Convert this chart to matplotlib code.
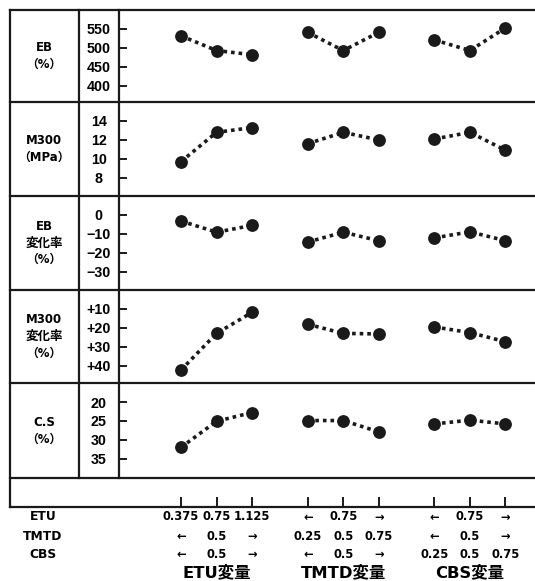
import numpy as np
import matplotlib.pyplot as plt
from matplotlib.lines import Line2D

# compound recipes (phr): ETU / TMTD / CBS
etu = ['0.375', '0.75', '1.125', '←', '0.75', '→', '←', '0.75', '→']
tmtd = ['←', '0.5', '→', '0.25', '0.5', '0.75', '←', '0.5', '→']
cbs = ['←', '0.5', '→', '←', '0.5', '→', '0.25', '0.5', '0.75']
groups = ['ETU変量', 'TMTD変量', 'CBS変量']

# measured properties for each recipe
eb = [532, 493, 482, 541, 493, 541, 521, 493, 553]
m300 = [9.7, 12.8, 13.3, 11.6, 12.8, 12.0, 12.1, 12.8, 10.9]
eb_change = [-3.2, -9.1, -5.5, -14.3, -9.1, -13.6, -12.1, -8.9, -13.6]
m300_change = [42.3, 22.9, 11.8, 18.1, 22.9, 23.2, 19.5, 22.5, 27.3]
cs = [32.0, 25.1, 22.8, 24.9, 24.9, 27.9, 25.8, 24.8, 25.8]

row_names = [['EB', '（%）'], ['M300', '（MPa）'], ['EB', '変化率', '（%）'],
             ['M300', '変化率', '（%）'], ['C.S', '（%）']]
row_ticks = [[550, 500, 450, 400], [14, 12, 10, 8], [0, -10, -20, -30],
             [10, 20, 30, 40], [20, 25, 30, 35]]
row_ticklabels = [['550', '500', '450', '400'], ['14', '12', '10', '8'],
                  ['0', '−10', '−20', '−30'], ['+10', '+20', '+30', '+40'],
                  ['20', '25', '30', '35']]
row_data = [eb, m300, eb_change, m300_change, cs]

WIDE = ['DejaVu Sans', 'Noto Sans CJK JP']
NARROW = ['Liberation Sans', 'DejaVu Sans']
plt.rcParams['font.family'] = WIDE
plt.rcParams['font.weight'] = 'bold'

W, H = 535, 581
fig = plt.figure(figsize=(W / 100, H / 100), dpi=100)
ink = '#1a1a1a'


def fx(px):
    return px / W


def fy(py):
    return 1 - py / H


# x positions: three recipes per group, wider gap between groups
xpos = np.concatenate([g * 3.57 + np.arange(3) for g in range(3)])
x0_px, unit_px = 181, 35.5
xlim = ((119 - x0_px) / unit_px, (535 - x0_px) / unit_px)

rows = [10, 102, 196, 290, 383, 478]
for i in range(5):
    top, bot = rows[i], rows[i + 1]
    h = bot - top
    ax = fig.add_axes([fx(119), fy(bot), fx(535) - fx(119), h / H])
    ticks = row_ticks[i]
    # first tick 19 px below panel top, last tick 75.7 px below
    t_off, b_off = 19.0, 75.7
    per_px = (ticks[-1] - ticks[0]) / (b_off - t_off)
    ytop = ticks[0] - t_off * per_px
    ybot = ticks[-1] + (h - b_off) * per_px
    ax.set_ylim(ybot, ytop)
    ax.set_xlim(*xlim)
    for g in range(3):
        sl = slice(3 * g, 3 * g + 3)
        ax.plot(xpos[sl], row_data[i][sl], color=ink, lw=2.6,
                linestyle=(0, (1.0, 1.1)), dash_capstyle='butt', zorder=2)
        ax.plot(xpos[sl], row_data[i][sl], 'o', color=ink, ms=8.2, zorder=3)
    ax.set_yticks(ticks)
    ax.set_yticklabels(row_ticklabels[i], ha='center', fontsize=10.3,
                       fontweight='bold', family=NARROW)
    ax.tick_params(axis='y', direction='in', length=6, width=1.4, color=ink,
                   pad=14.5)
    ax.set_xticks([])
    for s in ax.spines.values():
        s.set_visible(False)
    ax.patch.set_alpha(0)

    # row heading, one text per line
    lines = row_names[i]
    step = 16.8
    mid = (top + bot) / 2
    for k, line in enumerate(lines):
        py = mid + (k - (len(lines) - 1) / 2) * step
        size = 9 if line == '変化率' else 8.5
        fig.text(fx(44), fy(py), line, ha='center', va='center',
                 fontsize=size, fontweight='bold')

# bottom strip carrying the recipe ticks
axb = fig.add_axes([fx(119), fy(507), fx(535) - fx(119), 29 / H])
axb.set_xlim(*xlim)
axb.set_ylim(0, 1)
axb.set_yticks([])
axb.set_xticks(xpos)
axb.set_xticklabels([])
axb.tick_params(axis='x', direction='in', length=7.5, width=1.4, color=ink)
for s in axb.spines.values():
    s.set_visible(False)
axb.patch.set_alpha(0)

# table frame
lw = 1.6
frame = [((10, 535), (10, 10)), ((10, 535), (102, 102)), ((10, 535), (196, 196)),
         ((10, 535), (290, 290)), ((10, 535), (383, 383)), ((10, 535), (478, 478)),
         ((10, 535), (507, 507)), ((10, 10), (10, 507)), ((79, 79), (10, 478)),
         ((119, 119), (10, 478))]
for xs, ys in frame:
    fig.add_artist(Line2D([fx(xs[0]), fx(xs[1])], [fy(ys[0]), fy(ys[1])],
                          transform=fig.transFigure, color=ink, lw=lw,
                          solid_capstyle='projecting'))

# recipe labels under the ticks
trans = axb.get_xaxis_transform()
for name, labels, py in [('ETU', etu, 517), ('TMTD', tmtd, 536), ('CBS', cbs, 554)]:
    fig.text(fx(43), fy(py), name, ha='center', va='center', fontsize=8.8,
             fontweight='bold')
    for x, lab in zip(xpos, labels):
        axb.text(x, (507 - py) / 29, lab, transform=trans, ha='center',
                 va='center', fontsize=8.3, fontweight='bold', clip_on=False)

for g, name in enumerate(groups):
    axb.text(xpos[3 * g + 1], (507 - 572) / 29, name, transform=trans,
             ha='center', va='center', fontsize=11.8, fontweight='bold',
             clip_on=False)

fig.savefig('out.png', dpi=100)
